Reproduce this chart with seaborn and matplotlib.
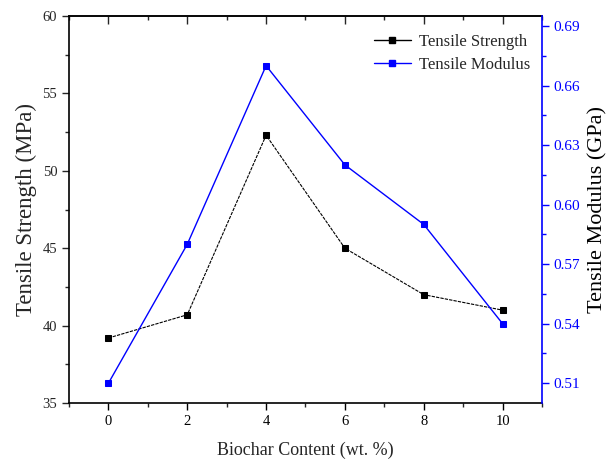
import matplotlib
matplotlib.use("Agg")
import matplotlib.pyplot as plt
import seaborn as sns
import pandas as pd
from matplotlib.ticker import MultipleLocator, FormatStrFormatter, NullFormatter
from matplotlib.lines import Line2D

biochar = [0, 2, 4, 6, 8, 10]
strength = [39.2, 40.7, 52.3, 45.0, 42.0, 41.0]
modulus = [0.51, 0.58, 0.67, 0.62, 0.59, 0.54]

sns.set_theme(style="ticks")
plt.rcParams['font.family'] = ['Liberation Serif', 'DejaVu Serif']

df = pd.DataFrame({"x": biochar, "s": strength, "m": modulus})

fig = plt.figure(figsize=(6.11, 4.73), dpi=100)
ax = fig.add_axes([0.113, 0.148, 0.774, 0.818])
ax2 = ax.twinx()

sns.lineplot(data=df, x="x", y="s", ax=ax, color="black", marker="s", markersize=5,
             markeredgecolor="black", linewidth=0.8, linestyle=(0, (3, 1)))
sns.lineplot(data=df, x="x", y="m", ax=ax2, color="blue", marker="s", markersize=5,
             markeredgecolor="blue", linewidth=1.0)

ax.set_xlim(-1, 11)
ax.set_ylim(35, 60)
ax2.set_ylim(0.50, 0.695)

ax.xaxis.set_major_locator(MultipleLocator(2))
ax.xaxis.set_minor_locator(MultipleLocator(1))
ax.yaxis.set_major_locator(MultipleLocator(5))
ax.yaxis.set_minor_locator(MultipleLocator(2.5))
ax2.set_yticks([0.51, 0.54, 0.57, 0.60, 0.63, 0.66, 0.69])
ax2.set_yticks([0.525, 0.555, 0.585, 0.615, 0.645, 0.675], minor=True)
ax2.yaxis.set_major_formatter(FormatStrFormatter('%.2f'))

top = ax.secondary_xaxis('top')
top.xaxis.set_major_locator(MultipleLocator(2))
top.xaxis.set_minor_locator(MultipleLocator(1))
top.xaxis.set_major_formatter(NullFormatter())
top.tick_params(axis='x', which='major', direction='in', length=6, width=1)
top.tick_params(axis='x', which='minor', direction='in', length=3, width=1)
top.spines['top'].set_linewidth(1.2)

ax.tick_params(axis='x', which='major', direction='out', length=5, width=1, labelsize=10.5, colors='black')
ax.tick_params(axis='x', which='minor', direction='out', length=3, width=1)
ax.tick_params(axis='y', which='major', direction='out', length=5, width=1, labelsize=10.5)
ax.tick_params(axis='y', which='minor', direction='out', length=3, width=1)
ax2.tick_params(axis='y', which='major', direction='out', length=5, width=1, labelsize=11, colors='blue')
ax2.tick_params(axis='y', which='minor', direction='out', length=3, width=1, colors='blue')

for sp in ax.spines.values():
    sp.set_linewidth(1.2)
    sp.set_color('black')
for sp in ax2.spines.values():
    sp.set_linewidth(1.2)
    sp.set_color('black')
ax2.spines['right'].set_color('blue')
ax2.spines['left'].set_visible(False)
ax2.spines['top'].set_visible(False)
ax2.spines['bottom'].set_visible(False)
ax.spines['right'].set_visible(False)

ax.set_xlabel("Biochar Content (wt. %)", fontsize=13, labelpad=10)
ax.set_ylabel("Tensile Strength (MPa)", fontsize=16.5, labelpad=4)
ax2.set_ylabel("Tensile Modulus (GPa)", fontsize=16, labelpad=6, color='black')

handles = [Line2D([], [], color='black', marker='s', markersize=5, linewidth=1),
           Line2D([], [], color='blue', marker='s', markersize=5, linewidth=1)]
ax2.legend(handles, ["Tensile Strength", "Tensile Modulus"], loc='upper right',
           frameon=False, fontsize=12, handlelength=2.2, handletextpad=0.5,
           borderaxespad=0.3, labelspacing=0.45, bbox_to_anchor=(1.0, 0.985))

fig.savefig("out.png", dpi=100)
